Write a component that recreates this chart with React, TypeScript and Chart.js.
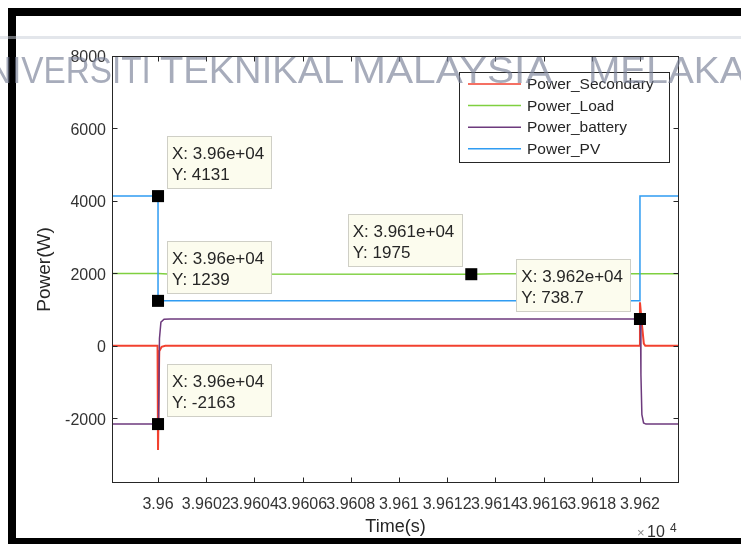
import { useEffect, useRef } from "react";
import { Chart, registerables } from "chart.js";

Chart.register(...registerables);

// ---------- data ----------
const SERIES_NAMES = ["Power_Secondary", "Power_Load", "Power_battery", "Power_PV"];
const SERIES_COLORS = ["#f2412f", "#7fd040", "#6d3a7d", "#2f9cf2"];

const SEC_T = [39598.09, 39599.98, 39600.0, 39600.05, 39600.15, 39600.3, 39619.98, 39620.0, 39620.08, 39620.16, 39620.22, 39621.62];
const SEC_P = [0, 0, -2880, -150, -30, 0, 0, 1200, 600, 60, 0, 0];

const LOAD_T = [39598.09, 39600.0, 39600.4, 39613.0, 39614.0, 39621.62];
const LOAD_P = [1995, 1995, 1980, 1975, 1990, 1990];

const BAT_T = [39598.09, 39599.98, 39600.02, 39600.06, 39600.12, 39600.25, 39600.5, 39619.98, 39620.02, 39620.04, 39620.08, 39620.15, 39620.25, 39621.62];
const BAT_P = [-2163, -2163, -2163, 200, 650, 730, 738.7, 738.7, 738.7, -800, -1900, -2130, -2163, -2163];

const PV_T = [39598.09, 39600.0, 39600.0, 39620.0, 39620.0, 39621.62];
const PV_P = [4131, 4131, 1239, 1239, 4131, 4131];

const X_TICKS = [39600, 39602, 39604, 39606, 39608, 39610, 39612, 39614, 39616, 39618, 39620];
const X_TICK_LABELS = ["3.96", "3.9602", "3.9604", "3.9606", "3.9608", "3.961", "3.9612", "3.9614", "3.9616", "3.9618", "3.962"];
const Y_TICKS = [-2000, 0, 2000, 4000, 6000, 8000];
const Y_TICK_LABELS = ["-2000", "0", "2000", "4000", "6000", "8000"];

const TIP_T = [39600, 39600, 39600, 39613.0, 39620];
const TIP_P = [4131, 1239, -2163, 1975, 738.7];
const TIP_X_TEXT = ["3.96e+04", "3.96e+04", "3.96e+04", "3.961e+04", "3.962e+04"];
const TIP_Y_TEXT = ["4131", "1239", "-2163", "1975", "738.7"];
const TIP_SIDE = ["right", "right", "right", "left", "left"];

const WATERMARK_WORDS = ["UNIVERSITI", "TEKNIKAL", "MALAYSIA", "MELAKA"];

const X_MIN = 39598.09;
const X_MAX = 39621.62;
const Y_MIN = -3790;
const Y_MAX = 8000;

const FONT = '"Liberation Sans", Arial, Helvetica, sans-serif';

function pts(t: number[], p: number[]) {
  return t.map((x, i) => ({ x, y: p[i] }));
}

const decoPlugin = {
  id: "deco",
  afterDraw(chart: any) {
    const { ctx, chartArea: a, scales } = chart;
    const xs = scales.x;
    const ys = scales.y;
    ctx.save();

    // axes box
    const L = Math.round(a.left) + 0.5;
    const R = Math.round(a.right) - 0.5;
    const T = Math.round(a.top) + 0.5;
    const B = Math.round(a.bottom) - 0.5;
    ctx.strokeStyle = "#262626";
    ctx.lineWidth = 1;
    ctx.strokeRect(L, T, R - L, B - T);

    // inside ticks
    const tl = 5;
    ctx.beginPath();
    xs.ticks.forEach((t: any) => {
      const px = Math.round(xs.getPixelForValue(t.value)) + 0.5;
      ctx.moveTo(px, B);
      ctx.lineTo(px, B - tl);
      ctx.moveTo(px, T);
      ctx.lineTo(px, T + tl);
    });
    ys.ticks.forEach((t: any) => {
      const py = Math.round(ys.getPixelForValue(t.value)) + 0.5;
      ctx.moveTo(L, py);
      ctx.lineTo(L + tl, py);
      ctx.moveTo(R, py);
      ctx.lineTo(R - tl, py);
    });
    ctx.stroke();

    // x10^4
    ctx.textBaseline = "alphabetic";
    ctx.textAlign = "left";
    ctx.fillStyle = "#8a8a8a";
    ctx.font = `13px ${FONT}`;
    ctx.fillText("\u00d7", 637, 537);
    ctx.fillStyle = "#333";
    ctx.font = `16px ${FONT}`;
    ctx.fillText("10", 647, 537);
    ctx.font = `12px ${FONT}`;
    ctx.fillText("4", 670, 532);

    // legend
    const lx = 459.5, ly = 72.5, lw = 210, lh = 90;
    ctx.fillStyle = "#ffffff";
    ctx.fillRect(lx, ly, lw, lh);
    ctx.strokeStyle = "#262626";
    ctx.lineWidth = 1;
    ctx.strokeRect(lx, ly, lw, lh);
    ctx.font = `15.5px ${FONT}`;
    ctx.textBaseline = "middle";
    SERIES_NAMES.forEach((name, i) => {
      const yy = 84 + i * 21.6;
      ctx.strokeStyle = SERIES_COLORS[i];
      ctx.lineWidth = 1.5;
      ctx.beginPath();
      ctx.moveTo(468, yy);
      ctx.lineTo(521, yy);
      ctx.stroke();
      ctx.fillStyle = "#262626";
      ctx.fillText(name, 527, yy + 1);
    });

    // data tips
    ctx.font = `17px ${FONT}`;
    TIP_T.forEach((t, i) => {
      const px = xs.getPixelForValue(t);
      const py = ys.getPixelForValue(TIP_P[i]);
      const l1 = "X: " + TIP_X_TEXT[i];
      const l2 = "Y: " + TIP_Y_TEXT[i];
      const w = Math.max(ctx.measureText(l1).width, ctx.measureText(l2).width) + 12;
      const h = 52;
      const left = TIP_SIDE[i] === "right" ? px + 9 : px - 10 - w;
      const top = py - 60;
      ctx.fillStyle = "#fcfcee";
      ctx.fillRect(Math.round(left) + 0.5, Math.round(top) + 0.5, Math.round(w), h);
      ctx.strokeStyle = "#cfcfc6";
      ctx.lineWidth = 1;
      ctx.strokeRect(Math.round(left) + 0.5, Math.round(top) + 0.5, Math.round(w), h);
      ctx.fillStyle = "#262626";
      ctx.textBaseline = "middle";
      ctx.fillText(l1, left + 5, top + 18);
      ctx.fillText(l2, left + 5, top + 39);
    });

    // outer black frame
    ctx.fillStyle = "#000";
    ctx.fillRect(8, 8, 8, 536);
    ctx.fillRect(8, 8, 733, 8);
    ctx.fillRect(8, 538, 733, 6);

    // watermark
    ctx.fillStyle = "rgba(200,205,215,0.5)";
    ctx.fillRect(0, 36, 741, 3);
    ctx.font = `37px ${FONT}`;
    ctx.textBaseline = "alphabetic";
    ctx.fillStyle = "rgba(120,128,150,0.65)";
    const starts = [-36, 160, 352, 588];
    const scalesX = [0.9, 1.03, 1.1, 1.05];
    WATERMARK_WORDS.forEach((wd, i) => {
      ctx.save();
      ctx.translate(starts[i], 83);
      ctx.scale(scalesX[i], 1);
      ctx.fillText(wd, 0, 0);
      ctx.restore();
    });
    ctx.restore();
  },
};

export default function App() {
  const ref = useRef<HTMLCanvasElement>(null);

  useEffect(() => {
    if (!ref.current) return;
    const orders = [3, 2, 1, 0];
    const lineSets = [
      pts(SEC_T, SEC_P),
      pts(LOAD_T, LOAD_P),
      pts(BAT_T, BAT_P),
      pts(PV_T, PV_P),
    ].map((data, i) => ({
      label: SERIES_NAMES[i],
      data,
      showLine: true,
      borderColor: SERIES_COLORS[i],
      backgroundColor: SERIES_COLORS[i],
      borderWidth: i === 0 ? 2 : 1.5,
      pointRadius: 0,
      tension: 0,
      order: orders[i],
    }));
    const tipSet = {
      label: "tips",
      data: pts(TIP_T, TIP_P),
      showLine: false,
      pointStyle: "rect",
      pointRadius: 8.5,
      backgroundColor: "#000",
      borderColor: "#000",
      borderWidth: 0,
      order: -1,
    };

    const chart = new Chart(ref.current, {
      type: "scatter",
      data: { datasets: [...lineSets, tipSet] as any },
      options: {
        animation: false,
        responsive: false,
        devicePixelRatio: 1,
        events: [],
        layout: { padding: { left: 0, right: 62, top: 56, bottom: 0 } },
        plugins: {
          legend: { display: false },
          tooltip: { enabled: false },
        },
        scales: {
          x: {
            type: "linear",
            min: X_MIN,
            max: X_MAX,
            grid: { display: false, drawTicks: false },
            border: { display: false },
            afterBuildTicks: (s: any) => {
              s.ticks = X_TICKS.map((v) => ({ value: v }));
            },
            afterFit: (s: any) => {
              s.height = 61;
            },
            ticks: {
              autoSkip: false,
              maxRotation: 0,
              minRotation: 0,
              padding: 12,
              color: "#333",
              font: { family: FONT, size: 16 },
              callback: (_v: any, i: number) => X_TICK_LABELS[i],
            },
            title: {
              display: true,
              text: "Time(s)",
              color: "#262626",
              font: { family: FONT, size: 18 },
              padding: { top: 0, bottom: 6 },
            },
          },
          y: {
            type: "linear",
            min: Y_MIN,
            max: Y_MAX,
            grid: { display: false, drawTicks: false },
            border: { display: false },
            afterBuildTicks: (s: any) => {
              s.ticks = Y_TICKS.map((v) => ({ value: v }));
            },
            afterFit: (s: any) => {
              s.width = 112;
            },
            ticks: {
              padding: 6,
              labelOffset: 2,
              color: "#333",
              font: { family: FONT, size: 16 },
              callback: (_v: any, i: number) => Y_TICK_LABELS[i],
            },
            title: {
              display: true,
              text: "Power(W)",
              color: "#262626",
              font: { family: FONT, size: 19 },
              padding: { top: 33, bottom: 0 },
            },
          },
        },
      },
      plugins: [decoPlugin],
    });
    return () => chart.destroy();
  }, []);

  return (
    <div
      style={{
        position: "absolute",
        left: 0,
        top: 0,
        width: 741,
        height: 544,
        background: "#fff",
      }}
    >
      <canvas ref={ref} width={741} height={544} style={{ display: "block", width: 741, height: 544 }} />
    </div>
  );
}
